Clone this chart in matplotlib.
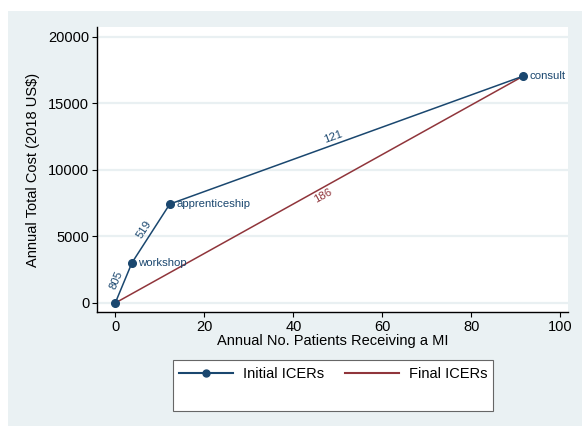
import numpy as np
import matplotlib
matplotlib.use("Agg")
import matplotlib.pyplot as plt
from matplotlib.patches import Rectangle
from matplotlib.lines import Line2D

plt.rcParams['font.family'] = ['Liberation Sans', 'DejaVu Sans']

# Data
strategies = ["", "workshop", "apprenticeship", "consult"]
patients = [0, 3.75, 12.25, 91.7]
costs = [0, 3020, 7430, 17050]
initial_icers = ["805", "519", "121"]
final_x = [0, 91.7]
final_y = [0, 17050]
final_icers = ["186"]
yticks = [0, 5000, 10000, 15000, 20000]
xticks = [0, 20, 40, 60, 80, 100]

navy = "#1a476f"
maroon = "#90353b"
bg = "#eaf1f3"
grid = "#e9f0f2"

W, H = 582, 426
fig = plt.figure(figsize=(W / 100, H / 100), dpi=100)
fig.patch.set_facecolor("white")
fig.patches.append(Rectangle((8 / W, 0), 1 - 8 / W, (H - 11) / H, transform=fig.transFigure,
                             facecolor=bg, edgecolor="none", zorder=-10))

ax = fig.add_axes([97 / W, (H - 312) / H, 471 / W, 285 / H])
ax.set_facecolor("white")
ax.set_xlim(-4.1, 101.7)
ax.set_ylim(-677, 20730)

for s in ["top", "right"]:
    ax.spines[s].set_visible(False)
for s in ["left", "bottom"]:
    ax.spines[s].set_color("black")
    ax.spines[s].set_linewidth(1.0)

ax.set_yticks(yticks)
ax.set_xticks(xticks)
ax.tick_params(axis="both", direction="out", length=3.5, width=0.8, labelsize=10.5, colors="black", pad=2)
for y in yticks:
    ax.axhline(y, color=grid, lw=1.6, zorder=0)

ax.plot(final_x, final_y, color=maroon, lw=1.1, zorder=2)
ax.plot(patients, costs, color=navy, lw=1.1, marker="o", ms=5.5, zorder=3)

for name, x, y in zip(strategies, patients, costs):
    if name:
        ax.annotate(name, (x, y), xytext=(4.5, 0), textcoords="offset points",
                    ha="left", va="center", fontsize=8.2, color=navy)

def seg_label(x0, y0, x1, y1, text, color, side, frac=0.5):
    p0 = ax.transData.transform((x0, y0))
    p1 = ax.transData.transform((x1, y1))
    ang = np.degrees(np.arctan2(p1[1] - p0[1], p1[0] - p0[0]))
    mx, my = x0 + (x1 - x0) * frac, y0 + (y1 - y0) * frac
    th = np.radians(ang)
    nx, ny = -np.sin(th), np.cos(th)
    off = 5.5 * side
    ax.annotate(text, (mx, my), xytext=(nx * off, ny * off), textcoords="offset points",
                ha="center", va="center", rotation=ang, rotation_mode="anchor",
                fontsize=8.2, color=color)

fracs = [0.5, 0.5, 0.47]
for i, t in enumerate(initial_icers):
    seg_label(patients[i], costs[i], patients[i + 1], costs[i + 1], t, navy, 1, fracs[i])
seg_label(final_x[0], final_y[0], final_x[1], final_y[1], final_icers[0], maroon, -1)

ax.set_ylabel("Annual Total Cost (2018 US$)", fontsize=10.5)
ax.yaxis.set_label_coords((40 - 97) / 471, 0.5)
ax.set_xlabel("Annual No. Patients Receiving a MI", fontsize=10.5)
ax.xaxis.set_label_coords(0.5, -(334 - 312) / 285)
ax.xaxis.label.set_va("top")

# Legend box
fig.patches.append(Rectangle((173 / W, (H - 411) / H), 320 / W, 51 / H, transform=fig.transFigure,
                             facecolor="white", edgecolor="#666666", lw=0.8, zorder=1))
h0 = Line2D([0, 1, 2], [0, 0, 0], color=navy, lw=1.5, marker="o", ms=5, markevery=[1])
h1 = Line2D([], [], color=maroon, lw=1.5)
leg = fig.legend([h0, h1], ["Initial ICERs", "Final ICERs"], ncol=2, frameon=False,
                 loc="center left", bbox_to_anchor=(179 / W, (H - 374) / H),
                 borderpad=0, borderaxespad=0, handlelength=3.7, handletextpad=0.7,
                 columnspacing=1.4, fontsize=10.5)
leg.set_zorder(5)

fig.savefig("out.png", dpi=100, facecolor=fig.get_facecolor())
